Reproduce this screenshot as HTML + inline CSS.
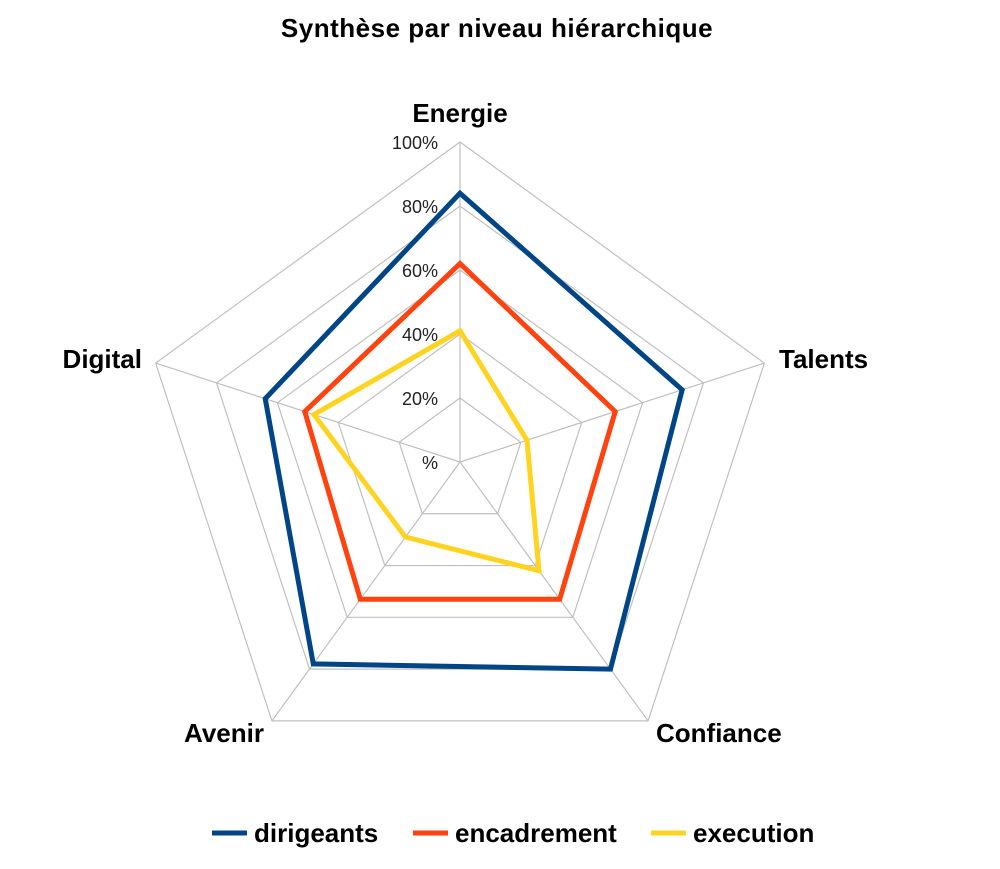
<!DOCTYPE html>
<html><head><meta charset="utf-8"><style>
body{margin:0;background:#fff;}
svg{display:block;font-family:"Liberation Sans",Arial,sans-serif;}
</style></head><body>
<svg id="s" width="1000" height="869" viewBox="0 0 1000 869" xmlns="http://www.w3.org/2000/svg">
<text x="497" y="37" text-anchor="middle" font-size="26" font-weight="bold" letter-spacing="0.5">Synthèse par niveau hiérarchique</text>
<g id="grid" stroke="#c0c0c0" stroke-width="1.2" fill="none"></g>
<g id="ticks" font-size="18" text-anchor="end" fill="#222"></g>
<g id="series" fill="none" stroke-width="5" stroke-linejoin="miter"></g>
<g font-size="26" font-weight="bold">
<text x="460" y="122" text-anchor="middle">Energie</text>
<text x="779" y="368">Talents</text>
<text x="656" y="742">Confiance</text>
<text x="264" y="742" text-anchor="end">Avenir</text>
<text x="142" y="368" text-anchor="end">Digital</text>
</g>
<g font-size="26" font-weight="bold">
<line x1="212" y1="833" x2="247" y2="833" stroke="#004586" stroke-width="5"/>
<text x="254" y="842">dirigeants</text>
<line x1="413" y1="833" x2="448" y2="833" stroke="#ff420e" stroke-width="5"/>
<text x="455" y="842">encadrement</text>
<line x1="651" y1="833" x2="686" y2="833" stroke="#ffd320" stroke-width="5"/>
<text x="693" y="842">execution</text>
</g>
</svg>
<script>
var cx=460,cy=462,R=320,ns="http://www.w3.org/2000/svg";
function pt(i,v){var a=(-90+72*i)*Math.PI/180;return [cx+R*v*Math.cos(a),cy+R*v*Math.sin(a)];}
function el(t,at,p){var e=document.createElementNS(ns,t);for(var k in at)e.setAttribute(k,at[k]);p.appendChild(e);return e;}
var g=document.getElementById('grid');
for(var l=1;l<=5;l++){var ps=[];for(var i=0;i<5;i++)ps.push(pt(i,l/5).join(','));el('polygon',{points:ps.join(' ')},g);}
for(var i=0;i<5;i++){var p=pt(i,1);el('line',{x1:cx,y1:cy,x2:p[0],y2:p[1]},g);}
var tk=document.getElementById('ticks'),lab=['%','20%','40%','60%','80%','100%'];
for(var l=0;l<=5;l++){var t=el('text',{x:438,y:cy-64*l+7},tk);t.textContent=lab[l];}
var data=[['#004586',[0.84,0.73,0.80,0.78,0.64]],['#ff420e',[0.62,0.51,0.53,0.53,0.51]],['#ffd320',[0.41,0.22,0.42,0.29,0.48]]];
var sg=document.getElementById('series');
data.forEach(function(d){var ps=[];for(var i=0;i<5;i++)ps.push(pt(i,d[1][i]).join(','));el('polygon',{points:ps.join(' '),stroke:d[0]},sg);});
</script>
</body></html>
